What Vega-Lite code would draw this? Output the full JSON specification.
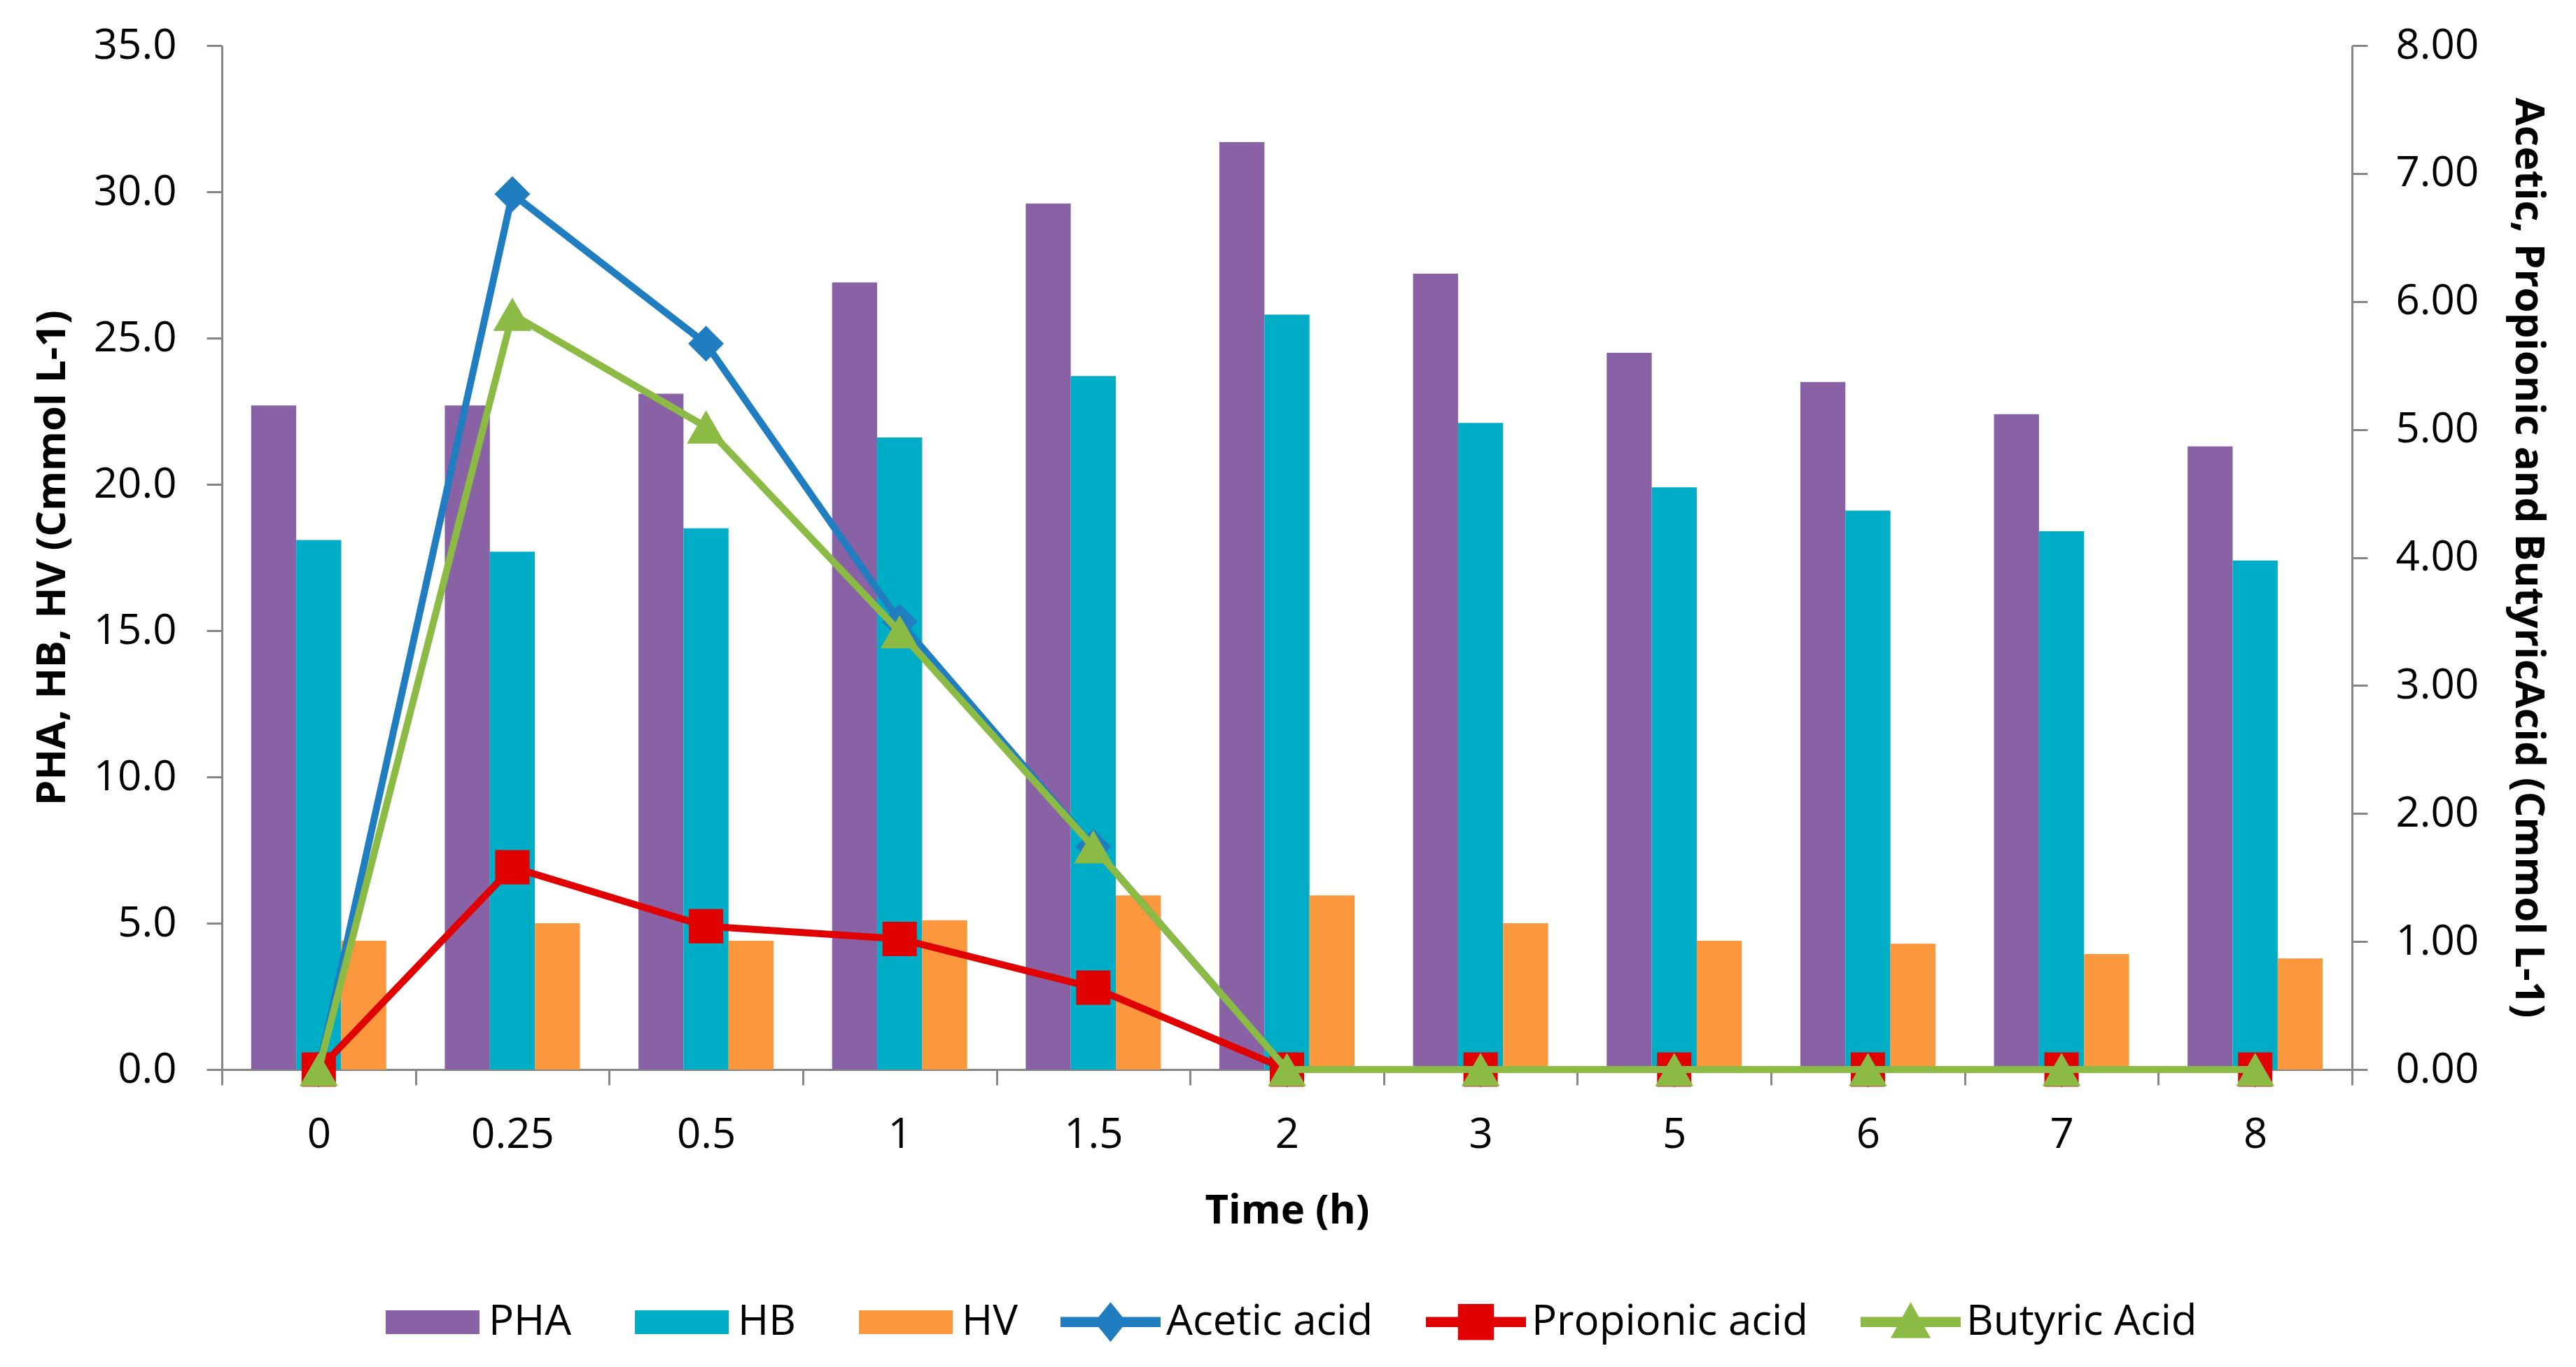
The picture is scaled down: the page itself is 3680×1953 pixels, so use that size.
{
  "$schema": "https://vega.github.io/schema/vega-lite/v6.json",
  "width": 3043,
  "height": 1463,
  "autosize": {"type": "none"},
  "padding": {"left": 317, "top": 65, "right": 320, "bottom": 425},
  "background": "white",
  "config": {
    "font": "Open Sans",
    "view": {"stroke": null},
    "axis": {"grid": false, "domainColor": "#868686", "domainWidth": 3, "tickColor": "#868686", "tickWidth": 3, "labelColor": "#000000", "titleColor": "#000000", "labelFontSize": 60, "titleFontSize": 58, "titleFontWeight": "bold", "labelFont": "Open Sans", "titleFont": "Open Sans"},
    "legend": {"labelFontSize": 60, "labelColor": "#000000", "labelFont": "Open Sans", "labelLimit": 0}
  },
  "datasets": {
    "bars": [
      {"time": "0", "series": "PHA", "value": 22.7},
      {"time": "0", "series": "HB", "value": 18.1},
      {"time": "0", "series": "HV", "value": 4.4},
      {"time": "0.25", "series": "PHA", "value": 22.7},
      {"time": "0.25", "series": "HB", "value": 17.7},
      {"time": "0.25", "series": "HV", "value": 5.0},
      {"time": "0.5", "series": "PHA", "value": 23.1},
      {"time": "0.5", "series": "HB", "value": 18.5},
      {"time": "0.5", "series": "HV", "value": 4.4},
      {"time": "1", "series": "PHA", "value": 26.9},
      {"time": "1", "series": "HB", "value": 21.6},
      {"time": "1", "series": "HV", "value": 5.1},
      {"time": "1.5", "series": "PHA", "value": 29.6},
      {"time": "1.5", "series": "HB", "value": 23.7},
      {"time": "1.5", "series": "HV", "value": 5.95},
      {"time": "2", "series": "PHA", "value": 31.7},
      {"time": "2", "series": "HB", "value": 25.8},
      {"time": "2", "series": "HV", "value": 5.95},
      {"time": "3", "series": "PHA", "value": 27.2},
      {"time": "3", "series": "HB", "value": 22.1},
      {"time": "3", "series": "HV", "value": 5.0},
      {"time": "5", "series": "PHA", "value": 24.5},
      {"time": "5", "series": "HB", "value": 19.9},
      {"time": "5", "series": "HV", "value": 4.4},
      {"time": "6", "series": "PHA", "value": 23.5},
      {"time": "6", "series": "HB", "value": 19.1},
      {"time": "6", "series": "HV", "value": 4.3},
      {"time": "7", "series": "PHA", "value": 22.4},
      {"time": "7", "series": "HB", "value": 18.4},
      {"time": "7", "series": "HV", "value": 3.95},
      {"time": "8", "series": "PHA", "value": 21.3},
      {"time": "8", "series": "HB", "value": 17.4},
      {"time": "8", "series": "HV", "value": 3.8}
    ],
    "acids": [
      {"time": "0", "series": "Acetic acid", "value": 0},
      {"time": "0.25", "series": "Acetic acid", "value": 6.84},
      {"time": "0.5", "series": "Acetic acid", "value": 5.67},
      {"time": "1", "series": "Acetic acid", "value": 3.5},
      {"time": "1.5", "series": "Acetic acid", "value": 1.74},
      {"time": "2", "series": "Acetic acid", "value": 0},
      {"time": "3", "series": "Acetic acid", "value": 0},
      {"time": "5", "series": "Acetic acid", "value": 0},
      {"time": "6", "series": "Acetic acid", "value": 0},
      {"time": "7", "series": "Acetic acid", "value": 0},
      {"time": "8", "series": "Acetic acid", "value": 0},
      {"time": "0", "series": "Propionic acid", "value": 0},
      {"time": "0.25", "series": "Propionic acid", "value": 1.58},
      {"time": "0.5", "series": "Propionic acid", "value": 1.12},
      {"time": "1", "series": "Propionic acid", "value": 1.02},
      {"time": "1.5", "series": "Propionic acid", "value": 0.64},
      {"time": "2", "series": "Propionic acid", "value": 0},
      {"time": "3", "series": "Propionic acid", "value": 0},
      {"time": "5", "series": "Propionic acid", "value": 0},
      {"time": "6", "series": "Propionic acid", "value": 0},
      {"time": "7", "series": "Propionic acid", "value": 0},
      {"time": "8", "series": "Propionic acid", "value": 0},
      {"time": "0", "series": "Butyric Acid", "value": 0},
      {"time": "0.25", "series": "Butyric Acid", "value": 5.9},
      {"time": "0.5", "series": "Butyric Acid", "value": 5.02},
      {"time": "1", "series": "Butyric Acid", "value": 3.42},
      {"time": "1.5", "series": "Butyric Acid", "value": 1.74},
      {"time": "2", "series": "Butyric Acid", "value": 0},
      {"time": "3", "series": "Butyric Acid", "value": 0},
      {"time": "5", "series": "Butyric Acid", "value": 0},
      {"time": "6", "series": "Butyric Acid", "value": 0},
      {"time": "7", "series": "Butyric Acid", "value": 0},
      {"time": "8", "series": "Butyric Acid", "value": 0}
    ]
  },
  "encoding": {
    "x": {
      "field": "time", "type": "nominal",
      "sort": ["0", "0.25", "0.5", "1", "1.5", "2", "3", "5", "6", "7", "8"],
      "scale": {"paddingInner": 0, "paddingOuter": 0},
      "axis": {"title": "Time (h)", "labelAngle": 0, "tickBand": "extent", "tickSize": 22, "labelPadding": 42, "titlePadding": 50}
    }
  },
  "layer": [
    {
      "data": {"name": "bars"},
      "mark": {"type": "bar"},
      "encoding": {
        "xOffset": {"field": "series", "type": "nominal", "sort": ["PHA", "HB", "HV"], "scale": {"paddingInner": 0, "paddingOuter": 0.65}},
        "y": {
          "field": "value", "type": "quantitative",
          "scale": {"domain": [0, 35], "nice": false},
          "axis": {"title": "PHA, HB, HV (Cmmol L-1)", "values": [0, 5, 10, 15, 20, 25, 30, 35], "format": ".1f", "tickSize": 22, "labelPadding": 43, "titlePadding": 29}
        },
        "fill": {
          "field": "series", "type": "nominal",
          "scale": {"domain": ["PHA", "HB", "HV"], "range": ["#8862A5", "#00ADC6", "#FB983D"]},
          "legend": {
            "title": null, "orient": "none", "direction": "horizontal",
            "legendX": 234, "legendY": 1757,
            "symbolType": "M-1,-0.254H1V0.254H-1Z", "symbolSize": 17956, "symbolStrokeWidth": 0,
            "labelOffset": 13, "columnPadding": 90
          }
        }
      }
    },
    {
      "data": {"name": "acids"},
      "encoding": {
        "y": {
          "field": "value", "type": "quantitative",
          "scale": {"domain": [0, 8], "nice": false},
          "axis": {"orient": "right", "title": "Acetic, Propionic and ButyricAcid (Cmmol L-1)", "values": [0, 1, 2, 3, 4, 5, 6, 7, 8], "format": ".2f", "tickSize": 22, "labelPadding": 40, "titlePadding": 41}
        },
        "stroke": {
          "field": "series", "type": "nominal",
          "scale": {"domain": ["Acetic acid", "Propionic acid", "Butyric Acid"], "range": ["#1F7DC0", "#E00000", "#8CBB45"]},
          "legend": {
            "title": null, "orient": "none", "direction": "horizontal",
            "legendX": 1198, "legendY": 1752,
            "symbolSize": 20449, "labelOffset": 8, "columnPadding": 75,
            "encode": {
              "symbols": {
                "update": {
                  "shape": {"signal": "datum.value === 'Acetic acid' ? 'M-1,-0.1H1V0.1H-1Z M0,-0.4L0.32,0L0,0.4L-0.32,0Z' : datum.value === 'Propionic acid' ? 'M-1,-0.1H1V0.1H-1Z M-0.36,-0.36H0.36V0.36H-0.36Z' : 'M-1,-0.1H1V0.1H-1Z M0,-0.4L0.4,0.32L-0.4,0.32Z'"},
                  "fill": {"scale": "stroke", "field": "value"},
                  "strokeWidth": {"value": 0}
                }
              }
            }
          }
        }
      },
      "layer": [
        {
          "transform": [{"filter": "datum.series === 'Acetic acid'"}],
          "mark": {"type": "line", "strokeWidth": 10}
        },
        {
          "transform": [{"filter": "datum.series === 'Acetic acid'"}],
          "mark": {"type": "point", "shape": "diamond", "size": 2600, "filled": true, "opacity": 1, "strokeWidth": 0, "fill": "#1F7DC0"}
        },
        {
          "transform": [{"filter": "datum.series === 'Propionic acid'"}],
          "mark": {"type": "line", "strokeWidth": 10}
        },
        {
          "transform": [{"filter": "datum.series === 'Propionic acid'"}],
          "mark": {"type": "point", "shape": "square", "size": 2400, "filled": true, "opacity": 1, "strokeWidth": 0, "fill": "#E00000"}
        },
        {
          "transform": [{"filter": "datum.series === 'Butyric Acid'"}],
          "mark": {"type": "line", "strokeWidth": 10}
        },
        {
          "transform": [{"filter": "datum.series === 'Butyric Acid'"}],
          "mark": {"type": "point", "shape": "triangle-up", "size": 3000, "filled": true, "opacity": 1, "strokeWidth": 0, "fill": "#8CBB45"}
        }
      ]
    }
  ],
  "resolve": {"scale": {"y": "independent"}}
}
